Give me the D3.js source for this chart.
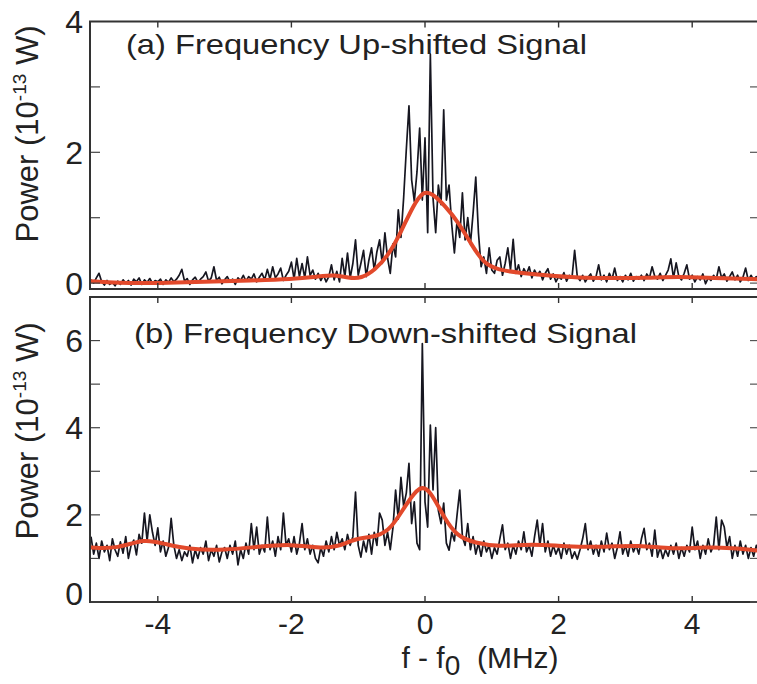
<!DOCTYPE html>
<html>
<head>
<meta charset="utf-8">
<script src="https://cdn.jsdelivr.net/npm/d3@7"></script>
<style>
  body { margin: 0; background: #fff; }
  text { font-family: "Liberation Sans", Arial, sans-serif; fill: #222; }
</style>
</head>
<body>
<div id="chart"></div>
<script>
// sampled spectrum: f - f0 from -5 MHz in steps of 0.04 MHz
var freqStart = -5, freqStep = 0.04;

// (a) up-shifted signal, 10^-13 W
var powerUp = [
  0.05,0.0,0.08,0.15,0.02,-0.03,0.04,-0.02,0.01,-0.04,0.03,-0.02,0.05,0.0,0.04,-0.03,0.06,0.02,0.08,-0.02,0.05,0.01,0.07,0.0,0.04,
  0.02,0.06,-0.02,0.05,0.01,0.08,0.02,0.06,0.12,0.21,0.03,0.07,-0.02,0.05,0.09,0.01,0.06,0.1,0.17,0.03,0.08,0.25,0.04,0.09,-0.01,
  0.05,0.1,0.02,0.06,-0.02,0.08,0.04,0.12,0.03,0.1,0.06,0.14,0.02,0.09,0.15,0.05,0.21,0.06,0.25,0.08,0.14,0.23,0.04,0.12,0.18,
  0.32,0.06,0.38,0.1,0.3,0.08,0.4,0.12,0.2,0.06,0.15,0.04,0.12,0.02,0.1,0.28,0.05,0.18,0.02,0.38,0.1,0.46,0.08,0.3,0.66,
  0.12,0.3,0.5,0.1,0.35,0.54,0.2,0.48,0.66,0.3,0.77,0.38,0.15,0.6,0.4,1.12,0.7,1.3,2.04,2.71,1.58,1.25,1.7,2.37,1.27,
  2.22,0.77,3.5,1.3,0.77,1.5,1.2,2.65,1.27,1.5,0.9,0.46,0.95,0.7,1.38,0.66,1.0,0.6,1.07,1.62,0.77,0.25,0.4,0.15,0.54,
  0.2,0.15,0.35,0.4,0.12,0.3,0.54,0.2,0.67,0.15,0.28,0.1,0.22,0.14,0.25,0.08,0.2,0.12,0.18,0.05,0.15,0.22,0.06,0.14,0.02,
  0.1,0.06,0.16,0.03,0.12,0.08,0.5,0.1,0.04,0.12,0.02,0.09,0.14,0.03,0.1,0.28,0.05,0.12,0.02,0.15,0.06,0.23,0.04,0.1,0.02,
  0.12,0.05,0.15,0.03,0.1,0.06,0.12,0.04,0.14,0.08,0.25,0.1,0.06,0.15,0.04,0.12,0.2,0.37,0.08,0.31,0.1,0.05,0.15,0.28,0.06,
  0.12,0.02,0.1,0.05,0.14,-0.01,0.08,0.04,0.12,0.06,0.25,0.08,0.14,0.03,0.1,0.17,0.05,0.12,0.02,0.09,0.23,0.04,0.12,0.05,0.1,0.07
];

// (b) down-shifted signal
var powerDown = [
  1.5,1.1,1.35,1.0,1.4,1.15,1.3,0.95,1.45,1.2,1.05,1.38,1.12,1.5,1.0,1.3,1.42,1.08,1.55,1.35,2.04,1.4,2.0,1.6,1.3,
  1.7,1.15,1.4,1.05,1.25,1.92,1.3,1.0,1.2,0.95,1.15,1.05,1.3,0.9,1.2,1.0,1.25,1.1,1.4,0.95,1.2,1.05,1.3,0.92,1.15,
  1.25,1.0,1.3,1.1,1.4,0.85,1.2,1.0,1.35,1.1,1.8,1.2,1.72,1.1,1.3,1.15,1.95,1.2,1.4,1.05,1.5,1.2,2.04,1.3,1.45,
  1.15,1.5,1.1,1.35,1.8,1.2,1.45,1.1,1.3,1.0,0.9,1.25,1.05,1.4,1.15,1.5,1.2,1.6,1.3,1.45,1.2,1.55,1.3,1.5,2.52,
  1.3,1.03,1.4,1.15,1.55,1.1,1.6,1.3,2.04,1.88,1.3,1.6,1.2,1.7,2.57,1.9,2.86,2.2,2.5,3.18,1.8,2.3,1.35,1.2,5.93,
  2.3,1.72,4.06,2.57,4.0,2.1,1.8,2.27,1.35,1.19,1.6,1.4,2.0,2.57,1.5,1.3,1.8,1.2,1.5,1.1,1.35,1.05,1.4,1.15,1.3,
  1.0,1.25,1.1,1.45,1.77,1.2,1.35,1.0,1.3,1.1,1.4,1.2,1.61,1.15,1.3,1.05,1.5,1.88,1.3,1.8,1.15,1.4,1.05,1.3,1.1,
  1.25,1.0,1.35,1.1,1.3,1.0,1.15,0.98,1.2,1.45,1.8,1.2,1.4,1.1,1.3,1.05,1.4,1.15,1.58,1.2,1.35,1.0,1.25,1.61,1.1,
  1.3,1.05,1.4,1.15,1.3,1.1,1.45,1.69,1.2,1.35,1.05,1.65,1.03,1.25,1.0,1.2,1.05,1.3,1.1,1.35,1.0,1.25,1.05,1.3,1.15,
  1.72,1.2,1.4,1.0,1.3,1.1,1.45,1.15,1.3,1.95,1.2,1.88,1.72,1.25,1.5,1.0,1.3,1.05,1.4,1.1,1.3,1.0,1.25,1.05,1.3,1.15
];

// smooth fits (red)
var fitUpFreq  = [-5.0,-4.6,-4.0,-3.3,-2.6,-2.0,-1.6,-1.35,-1.15,-0.95,-0.75,-0.55,-0.35,-0.18,-0.02,0.12,0.3,0.5,0.7,0.88,1.1,1.4,1.8,2.3,2.8,3.3,3.8,4.3,5.0];
var fitUpPower = [0.03,0.0,0.0,0.02,0.04,0.06,0.1,0.13,0.08,0.07,0.2,0.42,0.8,1.18,1.42,1.36,1.18,0.93,0.58,0.3,0.2,0.16,0.12,0.08,0.08,0.08,0.1,0.08,0.06];

var fitDownFreq  = [-5.0,-4.6,-4.2,-3.9,-3.5,-3.0,-2.5,-2.0,-1.6,-1.3,-1.05,-0.7,-0.5,-0.3,-0.07,0.08,0.28,0.48,0.75,1.1,1.6,2.1,2.7,3.2,3.7,4.2,4.6,5.0];
var fitDownPower = [1.25,1.22,1.46,1.33,1.2,1.19,1.27,1.33,1.24,1.26,1.46,1.5,1.7,2.2,2.7,2.55,1.95,1.5,1.36,1.26,1.34,1.27,1.26,1.31,1.21,1.26,1.24,1.18];

var xTicks = [-4, -2, 0, 2, 4];
var upTicks = [0, 1, 2, 3, 4], upLabels = [0, 2, 4];
var downTicks = [0, 1, 2, 3, 4, 5, 6], downLabels = [0, 2, 4, 6];

var width = 757, height = 684;
var svg = d3.select("#chart").append("svg")
  .attr("width", width)
  .attr("height", height);

var x = d3.scaleLinear().domain([-5, 5]).range([91, 759]);
var frameRight = 760;

function toPoints(values) {
  return values.map(function (v, i) { return [freqStart + i * freqStep, v]; });
}
function zip(a, b) {
  return a.map(function (f, i) { return [f, b[i]]; });
}

var panels = [
  { id: "a", signal: powerUp, fit: zip(fitUpFreq, fitUpPower), domain: [-0.09, 4], range: [289, 21.5],
    ticks: upTicks, labels: upLabels, title: "(a) Frequency Up-shifted Signal", titleX: 126, titleY: 54, titleLen: 461,
    ylabelY: 134 },
  { id: "b", signal: powerDown, fit: zip(fitDownFreq, fitDownPower), domain: [0, 7], range: [602, 297],
    ticks: downTicks, labels: downLabels, title: "(b) Frequency Down-shifted Signal", titleX: 134, titleY: 343, titleLen: 503,
    ylabelY: 431 }
];

panels.forEach(function (p) {
  var y = d3.scaleLinear().domain(p.domain).range(p.range);
  var top = p.range[1], bottom = p.range[0];
  var g = svg.append("g");

  g.append("clipPath").attr("id", "clip-" + p.id)
    .append("rect")
    .attr("x", 91).attr("y", top)
    .attr("width", frameRight - 91).attr("height", bottom - top);

  var line = d3.line()
    .x(function (d) { return x(d[0]); })
    .y(function (d) { return y(d[1]); });

  var plot = g.append("g").attr("clip-path", "url(#clip-" + p.id + ")");
  plot.append("path")
    .attr("d", line(toPoints(p.signal)))
    .attr("fill", "none")
    .attr("stroke", "#161620")
    .attr("stroke-width", 1.7)
    .attr("stroke-linejoin", "round");
  plot.append("path")
    .attr("d", line.curve(d3.curveBasis)(p.fit))
    .attr("fill", "none")
    .attr("stroke", "#e2492b")
    .attr("stroke-width", 4)
    .attr("stroke-linecap", "round");

  // frame
  g.append("rect")
    .attr("x", 90).attr("y", top)
    .attr("width", frameRight - 90).attr("height", bottom - top)
    .attr("fill", "none")
    .attr("stroke", "#333")
    .attr("stroke-width", 2);

  // inward ticks
  p.ticks.forEach(function (t) {
    if (y(t) <= top + 1) return;
    g.append("line").attr("x1", 91).attr("x2", 100).attr("y1", y(t)).attr("y2", y(t))
      .attr("stroke", "#444").attr("stroke-width", 1.2);
    g.append("line").attr("x1", 750).attr("x2", frameRight).attr("y1", y(t)).attr("y2", y(t))
      .attr("stroke", "#555").attr("stroke-width", 1.2);
  });
  xTicks.forEach(function (t) {
    g.append("line").attr("x1", x(t)).attr("x2", x(t)).attr("y1", top).attr("y2", top + 6)
      .attr("stroke", "#333").attr("stroke-width", 1.4);
    g.append("line").attr("x1", x(t)).attr("x2", x(t)).attr("y1", bottom).attr("y2", bottom - 6)
      .attr("stroke", "#333").attr("stroke-width", 1.4);
  });

  // y tick labels
  g.selectAll(".ylab")
    .data(p.labels)
    .enter()
    .append("text")
    .attr("x", 83)
    .attr("y", function (d) { return (p.id == "b" && d == 0) ? y(d) - 9 : y(d); })
    .attr("dy", "0.36em")
    .attr("text-anchor", "end")
    .style("font-size", "32px")
    .text(function (d) { return d; });

  // panel title
  g.append("text")
    .attr("x", p.titleX)
    .attr("y", p.titleY)
    .attr("textLength", p.titleLen)
    .attr("lengthAdjust", "spacingAndGlyphs")
    .style("font-size", "28px")
    .text(p.title);

  // y axis label
  var yl = g.append("text")
    .attr("transform", "translate(38," + p.ylabelY + ") rotate(-90)")
    .attr("text-anchor", "middle")
    .style("font-size", "31px");
  yl.append("tspan").text("Power (10");
  yl.append("tspan").attr("dy", -12).style("font-size", "19px").text("-13");
  yl.append("tspan").attr("dy", 12).text(" W)");
});

// x tick labels
svg.selectAll(".xlab")
  .data(xTicks)
  .enter()
  .append("text")
  .attr("x", function (d) { return x(d); })
  .attr("y", 634)
  .attr("text-anchor", "middle")
  .style("font-size", "30px")
  .text(function (d) { return d; });

// x axis title
var xt = svg.append("text")
  .attr("x", 480)
  .attr("y", 668)
  .attr("text-anchor", "middle")
  .style("font-size", "30px")
  .style("white-space", "pre");
xt.append("tspan").text("f - f");
xt.append("tspan").attr("dy", 7).style("font-size", "28px").text("0");
xt.append("tspan").attr("dy", -7).text("  (MHz)");
</script>
</body>
</html>
